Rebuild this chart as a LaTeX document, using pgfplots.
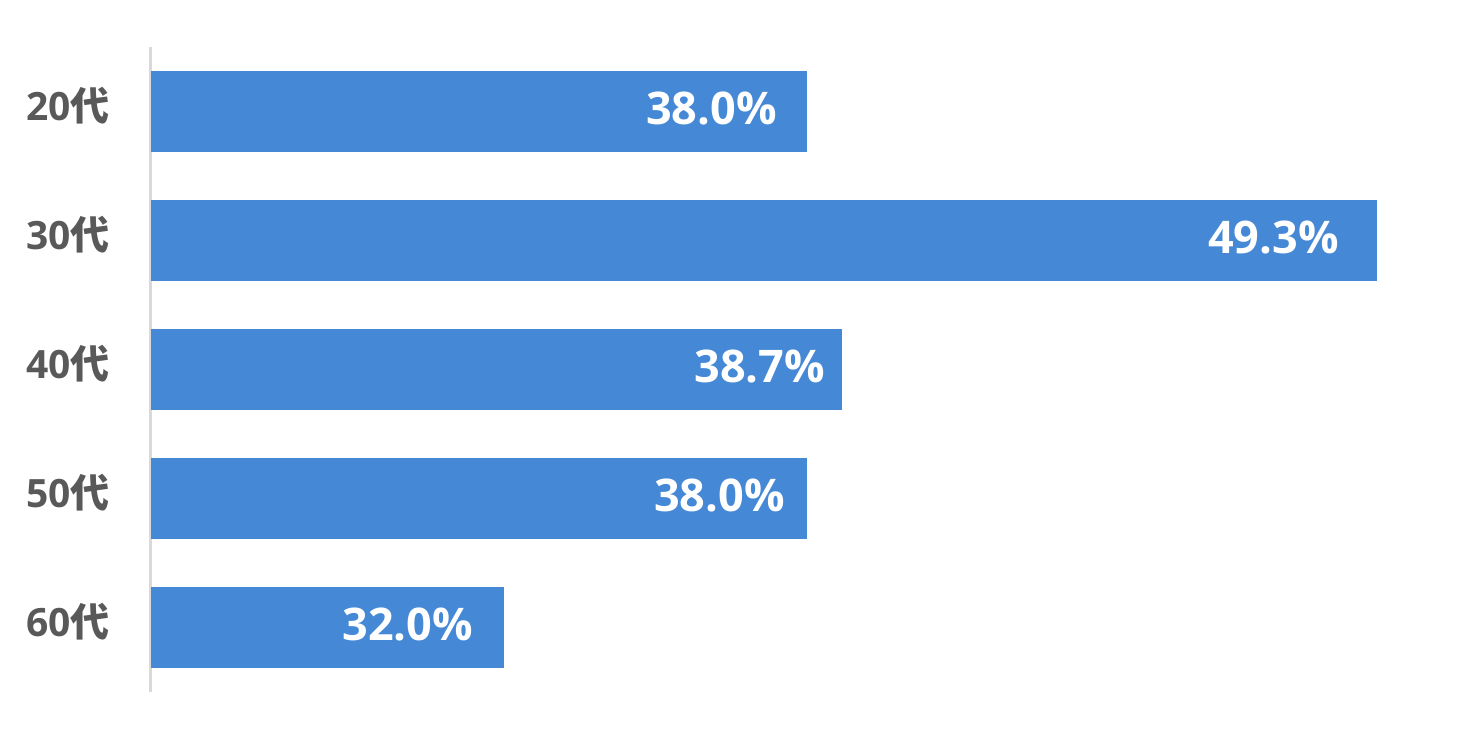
\documentclass[border=0pt]{standalone}
\usepackage{fontspec}
\setmainfont{Open Sans}
\newfontfamily\cjk{Noto Sans CJK JP}
\usepackage{pgfplots}
\pgfplotsset{compat=1.18}
\definecolor{barc}{HTML}{4589D6}
\definecolor{tickc}{HTML}{595959}
\definecolor{axl}{HTML}{D9D9D9}
\begin{document}
\begin{tikzpicture}
\begin{axis}[
  scale only axis, width=630.5pt, height=322.5pt,
  xbar, bar width=40.5pt, bar shift=0pt,
  xmin=25, xmax=50, ymin=-0.5, ymax=4.5, y dir=reverse,
  enlargelimits=false,
  ytick={0,1,2,3,4},
  yticklabels={20{\cjk 代},30{\cjk 代},40{\cjk 代},50{\cjk 代},60{\cjk 代}},
  xtick=\empty,
  hide x axis,
  axis y line*=left,
  y axis line style={draw=axl, line width=1.5pt},
  major tick length=0pt,
  yticklabel style={font=\fontsize{19.5pt}{20pt}\selectfont\bfseries, text=tickc, anchor=east, inner sep=0pt, xshift=-20.5pt, yshift=3pt},
  point meta=x,
  nodes near coords={\pgfmathprintnumber[fixed,fixed zerofill,precision=1,assume math mode=true]{\pgfplotspointmeta}\%},
  every node near coord/.append style={anchor=east, yshift=1.5pt, text=white, font=\fontsize{22.5pt}{23pt}\selectfont\bfseries},
]
\addplot[fill=barc, draw=none, every node near coord/.append style={xshift=-11.5pt}] coordinates {(38.0,0)};
\addplot[fill=barc, draw=none, every node near coord/.append style={xshift=-15.5pt}] coordinates {(49.3,1)};
\addplot[fill=barc, draw=none, every node near coord/.append style={xshift=-5pt}] coordinates {(38.7,2)};
\addplot[fill=barc, draw=none, every node near coord/.append style={xshift=-7.5pt}] coordinates {(38.0,3)};
\addplot[fill=barc, draw=none, every node near coord/.append style={xshift=-12pt}] coordinates {(32.0,4)};
\end{axis}
\path (current axis.south west) ++(-75.5pt,-24pt);
\path (current axis.north east) ++(25pt,23.5pt);
\end{tikzpicture}
\end{document}
